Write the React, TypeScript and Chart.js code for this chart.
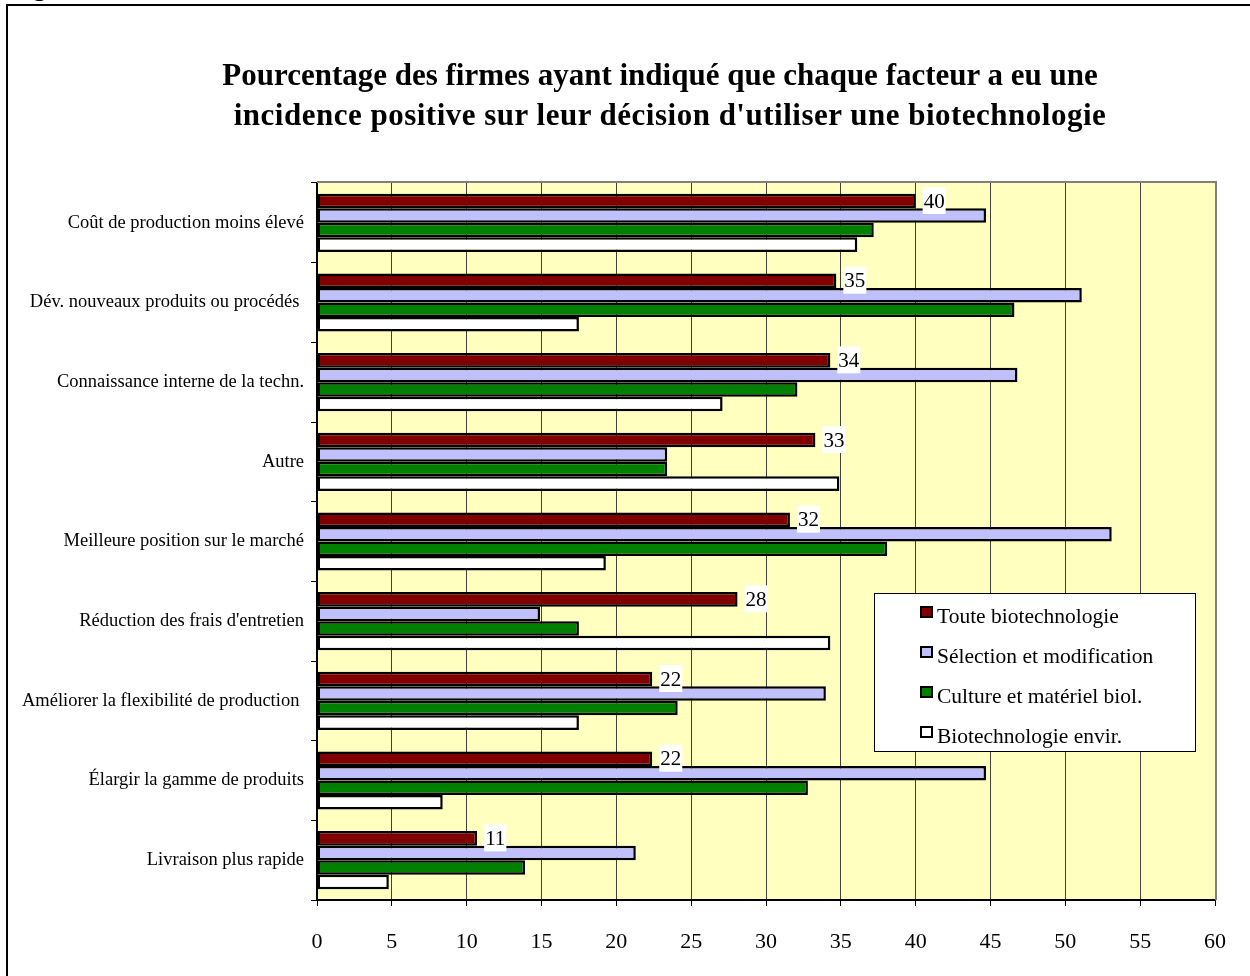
import React, { useEffect, useRef } from "react";
import { Chart, registerables } from "chart.js";

Chart.register(...registerables);

// ---------- data ----------
const titleLines = [
  "Pourcentage des firmes ayant indiqué que chaque facteur a eu une",
  "incidence positive sur leur décision d'utiliser une biotechnologie",
];

const categories = [
  "Coût de production moins élevé",
  "Dév. nouveaux produits ou procédés ",
  "Connaissance interne de la techn.",
  "Autre",
  "Meilleure position sur le marché",
  "Réduction des frais d'entretien",
  "Améliorer la flexibilité de production ",
  "Élargir la gamme de produits",
  "Livraison plus rapide",
];

const seriesNames = [
  "Toute biotechnologie",
  "Sélection et modification",
  "Culture et matériel biol.",
  "Biotechnologie envir.",
];

const touteBiotech = [40, 34.7, 34.3, 33.3, 31.6, 28.1, 22.4, 22.4, 10.7];
const selectionModif = [44.7, 51.1, 46.8, 23.4, 53.1, 14.9, 34.0, 44.7, 21.3];
const cultureMateriel = [37.2, 46.6, 32.1, 23.4, 38.1, 17.5, 24.1, 32.8, 13.9];
const biotechEnvir = [36.1, 17.5, 27.1, 34.9, 19.3, 34.3, 17.5, 8.4, 4.8];

const xMin = 0;
const xMax = 60;
const xStep = 5;

// ---------- styles ----------
const SERIF = '"Liberation Serif", "Times New Roman", serif';
const seriesColors = ["#800000", "#C0C0FF", "#008000", "#FFFFFF"];

const plotBgPlugin = {
  id: "plotBg",
  beforeDraw(chart: any) {
    const { ctx, chartArea } = chart;
    ctx.save();
    ctx.fillStyle = "#FFFFC0";
    ctx.fillRect(chartArea.left, chartArea.top, chartArea.right - chartArea.left, chartArea.bottom - chartArea.top);
    ctx.restore();
  },
};

const frameAndLabelsPlugin = {
  id: "frameAndLabels",
  afterDatasetsDraw(chart: any) {
    const { ctx, chartArea } = chart;
    ctx.save();
    // gray top and right border of plot area
    ctx.strokeStyle = "#808080";
    ctx.lineWidth = 2;
    ctx.beginPath();
    ctx.moveTo(chartArea.left, chartArea.top - 1);
    ctx.lineTo(chartArea.right + 1, chartArea.top - 1);
    ctx.lineTo(chartArea.right + 1, chartArea.bottom);
    ctx.stroke();

    // data labels for first series
    const meta = chart.getDatasetMeta(0);
    const values = chart.data.datasets[0].data as number[];
    ctx.font = `21px ${SERIF}`;
    ctx.textBaseline = "middle";
    ctx.textAlign = "left";
    meta.data.forEach((bar: any, i: number) => {
      const txt = String(Math.round(values[i]));
      const w = ctx.measureText(txt).width;
      const x = bar.x + 8;
      const y = bar.y;
      ctx.fillStyle = "#FFFFFF";
      ctx.fillRect(x - 1, y - 14, w + 2, 27);
      ctx.fillStyle = "#000000";
      ctx.fillText(txt, x, y + 1);
    });
    ctx.restore();
  },
};

const boxLegendPlugin = {
  id: "boxLegend",
  afterDraw(chart: any) {
    const { ctx, chartArea } = chart;
    const left = chartArea.left + 557;
    const top = chartArea.top + 410;
    const w = 322;
    const h = 159;
    ctx.save();
    ctx.fillStyle = "#FFFFFF";
    ctx.fillRect(left, top, w, h);
    ctx.strokeStyle = "#000000";
    ctx.lineWidth = 1;
    ctx.strokeRect(left + 0.5, top + 0.5, w - 1, h - 1);
    ctx.font = `21.5px ${SERIF}`;
    ctx.textBaseline = "alphabetic";
    ctx.textAlign = "left";
    chart.data.datasets.forEach((ds: any, i: number) => {
      const base = top + 30 + i * 40;
      const mx = left + 46;
      const my = base - 17;
      ctx.fillStyle = ds.backgroundColor;
      ctx.fillRect(mx, my, 13, 12);
      ctx.strokeStyle = "#000000";
      ctx.lineWidth = 2;
      ctx.strokeRect(mx + 1, my + 1, 11, 10);
      ctx.fillStyle = "#000000";
      ctx.fillText(ds.label, left + 63, base);
    });
    ctx.restore();
  },
};

export default function App() {
  const canvasRef = useRef<HTMLCanvasElement | null>(null);

  useEffect(() => {
    if (!canvasRef.current) return;
    const seriesData = [touteBiotech, selectionModif, cultureMateriel, biotechEnvir];
    const chart = new Chart(canvasRef.current, {
      type: "bar",
      data: {
        labels: categories,
        datasets: seriesNames.map((name, i) => ({
          label: name,
          data: seriesData[i],
          backgroundColor: seriesColors[i],
          borderColor: "#000000",
          borderWidth: 2.5,
          borderSkipped: false,
          categoryPercentage: 0.73,
          barPercentage: 1.0,
        })),
      },
      options: {
        indexAxis: "y",
        responsive: false,
        animation: false,
        devicePixelRatio: 1,
        layout: { padding: { top: 183, right: 35, left: 0, bottom: 0 } },
        plugins: {
          legend: { display: false },
          tooltip: { enabled: false },
          title: { display: false },
        },
        scales: {
          x: {
            min: xMin,
            max: xMax,
            ticks: {
              stepSize: xStep,
              color: "#000000",
              font: { family: SERIF, size: 22 },
              padding: 23,
              maxRotation: 0,
            },
            grid: {
              color: "#404040",
              tickColor: "#000000",
              tickLength: 6,
              lineWidth: 1,
            },
            border: { color: "#000000", width: 2 },
            afterFit: (s: any) => {
              s.height = 76;
            },
          },
          y: {
            ticks: {
              color: "#000000",
              font: { family: SERIF, size: 18.5 },
              padding: 7,
              autoSkip: false,
            },
            grid: {
              drawOnChartArea: false,
              offset: true,
              tickLength: 6,
              color: "#000000",
              lineWidth: 1,
            },
            border: { color: "#000000", width: 2 },
            afterFit: (s: any) => {
              s.width = 317;
            },
          },
        },
      } as any,
      plugins: [plotBgPlugin, frameAndLabelsPlugin, boxLegendPlugin],
    });
    return () => chart.destroy();
  }, []);

  return (
    <div style={{ position: "fixed", left: 0, top: 0, width: 1250, height: 976, overflow: "hidden", background: "#FFFFFF" }}>
      <div
        style={{
          position: "absolute",
          left: 10,
          top: -25,
          fontFamily: SERIF,
          fontWeight: "bold",
          fontSize: 26,
          lineHeight: "26px",
          whiteSpace: "nowrap",
        }}
      >
        Figure
      </div>
      <div
        style={{
          position: "absolute",
          left: 6,
          top: 4,
          width: 1400,
          height: 1100,
          border: "2px solid #000000",
          boxSizing: "border-box",
        }}
      />
      <canvas
        ref={canvasRef}
        width={1250}
        height={976}
        style={{ position: "absolute", left: 0, top: 0, width: 1250, height: 976 }}
      />
      <div
        style={{
          position: "absolute",
          left: 0,
          top: 55,
          fontFamily: SERIF,
          fontWeight: "bold",
          fontSize: 31,
          lineHeight: "40px",
          color: "#000000",
          whiteSpace: "nowrap",
        }}
      >
        <div style={{ width: 1320, textAlign: "center" }}>{titleLines[0]}</div>
        <div style={{ width: 1340, textAlign: "center", letterSpacing: "0.5px" }}>{titleLines[1]}</div>
      </div>
    </div>
  );
}
